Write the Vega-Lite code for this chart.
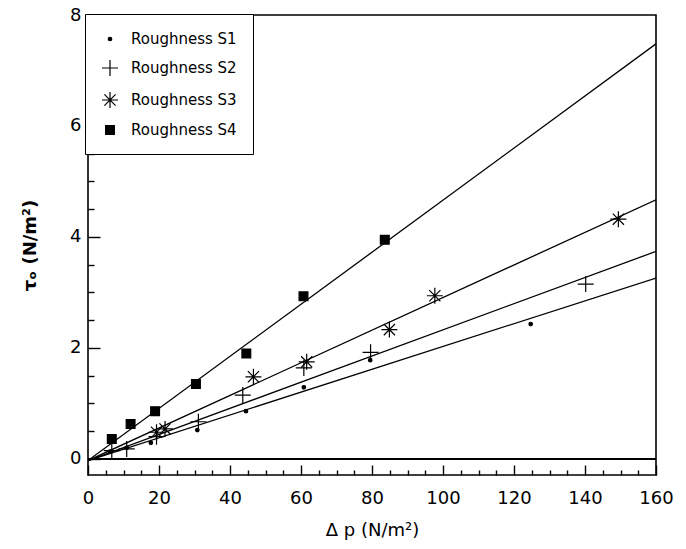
{
  "$schema": "https://vega.github.io/schema/vega-lite/v6.json",
  "width": 568,
  "height": 460,
  "autosize": "none",
  "padding": {"left": 88, "top": 15, "right": 30, "bottom": 74},
  "background": "white",
  "config": {
    "font": "DejaVu Sans",
    "view": {"stroke": "black", "strokeWidth": 1.6},
    "axis": {
      "grid": false,
      "ticks": true,
      "zindex": 1,
      "domain": false,
      "tickColor": "black",
      "tickWidth": 1.4,
      "labelColor": "black",
      "labelFont": "DejaVu Sans",
      "labelFontSize": 18,
      "titleColor": "black",
      "titleFont": "DejaVu Sans",
      "titleFontSize": 18,
      "titleFontWeight": "normal"
    },
    "legend": {
      "orient": "none",
      "legendX": -3,
      "legendY": -1,
      "strokeColor": "black",
      "fillColor": "white",
      "padding": 16,
      "rowPadding": 10,
      "symbolSize": 256,
      "symbolStrokeWidth": 1.2,
      "labelFont": "DejaVu Sans",
      "labelFontSize": 15,
      "labelColor": "black",
      "labelOffset": 12
    }
  },
  "resolve": {"axis": {"x": "independent", "y": "independent"}},
  "datasets": {
    "measured": [
      {"series": "Roughness S1", "dp": 6.2, "tau": 0.13},
      {"series": "Roughness S1", "dp": 10.9, "tau": 0.2},
      {"series": "Roughness S1", "dp": 17.7, "tau": 0.29},
      {"series": "Roughness S1", "dp": 30.8, "tau": 0.52},
      {"series": "Roughness S1", "dp": 44.5, "tau": 0.86},
      {"series": "Roughness S1", "dp": 60.8, "tau": 1.29},
      {"series": "Roughness S1", "dp": 79.5, "tau": 1.78},
      {"series": "Roughness S1", "dp": 124.7, "tau": 2.43},
      {"series": "Roughness S2", "dp": 6.7, "tau": 0.15},
      {"series": "Roughness S2", "dp": 10.9, "tau": 0.18},
      {"series": "Roughness S2", "dp": 19.3, "tau": 0.4},
      {"series": "Roughness S2", "dp": 31.1, "tau": 0.67},
      {"series": "Roughness S2", "dp": 43.6, "tau": 1.15},
      {"series": "Roughness S2", "dp": 60.8, "tau": 1.64},
      {"series": "Roughness S2", "dp": 79.6, "tau": 1.92},
      {"series": "Roughness S2", "dp": 140.2, "tau": 3.15},
      {"series": "Roughness S3", "dp": 19.3, "tau": 0.48},
      {"series": "Roughness S3", "dp": 21.7, "tau": 0.54},
      {"series": "Roughness S3", "dp": 46.6, "tau": 1.48},
      {"series": "Roughness S3", "dp": 61.6, "tau": 1.75},
      {"series": "Roughness S3", "dp": 84.9, "tau": 2.33},
      {"series": "Roughness S3", "dp": 97.7, "tau": 2.94},
      {"series": "Roughness S3", "dp": 149.4, "tau": 4.32},
      {"series": "Roughness S4", "dp": 6.7, "tau": 0.36},
      {"series": "Roughness S4", "dp": 12.0, "tau": 0.63},
      {"series": "Roughness S4", "dp": 18.9, "tau": 0.86},
      {"series": "Roughness S4", "dp": 30.4, "tau": 1.35},
      {"series": "Roughness S4", "dp": 44.6, "tau": 1.9},
      {"series": "Roughness S4", "dp": 60.7, "tau": 2.93},
      {"series": "Roughness S4", "dp": 83.6, "tau": 3.95}
    ],
    "fits": [
      {"series": "Roughness S1", "dp": 0, "tau": -0.03},
      {"series": "Roughness S1", "dp": 160, "tau": 3.26},
      {"series": "Roughness S2", "dp": 0, "tau": -0.03},
      {"series": "Roughness S2", "dp": 160, "tau": 3.74},
      {"series": "Roughness S3", "dp": 0, "tau": -0.03},
      {"series": "Roughness S3", "dp": 160, "tau": 4.67},
      {"series": "Roughness S4", "dp": 0, "tau": -0.03},
      {"series": "Roughness S4", "dp": 160, "tau": 7.48}
    ],
    "baseline": [{"tau": 0}]
  },
  "layer": [
    {
      "data": {"name": "baseline"},
      "mark": {"type": "rule", "color": "black", "strokeWidth": 2},
      "encoding": {
        "y": {"field": "tau", "type": "quantitative", "axis": null}
      }
    },
    {
      "data": {"name": "fits"},
      "mark": {"type": "line", "color": "black", "strokeWidth": 1.3, "clip": true},
      "encoding": {
        "x": {
          "field": "dp",
          "type": "quantitative",
          "axis": {
            "orient": "bottom",
            "title": null,
            "labels": false,
            "values": [5, 10, 15, 25, 30, 35, 45, 50, 55, 65, 70, 75, 85, 90, 95, 105, 110, 115, 125, 130, 135, 145, 150, 155],
            "tickSize": 5,
            "offset": -5
          }
        },
        "y": {
          "field": "tau",
          "type": "quantitative",
          "axis": {
            "orient": "left",
            "title": null,
            "labels": false,
            "values": [0.5, 1, 1.5, 2.5, 3, 3.5, 4.5, 5, 5.5, 6.5, 7, 7.5],
            "tickSize": 6,
            "offset": -6
          }
        },
        "detail": {"field": "series"}
      }
    },
    {
      "data": {"name": "measured"},
      "mark": {"type": "point", "stroke": "black", "strokeWidth": 1.2, "opacity": 1, "size": 256},
      "encoding": {
        "x": {
          "field": "dp",
          "type": "quantitative",
          "scale": {"domain": [0, 160], "nice": false},
          "axis": {
            "orient": "bottom",
            "title": "Δ p (N/m²)",
            "titlePadding": 14,
            "values": [0, 20, 40, 60, 80, 100, 120, 140, 160],
            "format": "d",
            "tickSize": 10,
            "offset": -10,
            "labelPadding": 14,
            "labelFlush": false
          }
        },
        "y": {
          "field": "tau",
          "type": "quantitative",
          "scale": {"domain": [-0.29, 8], "nice": false, "zero": false},
          "axis": {
            "orient": "left",
            "title": "τₒ (N/m²)",
            "titleFontWeight": "bold",
            "titlePadding": 30,
            "values": [0, 2, 4, 6, 8],
            "format": "d",
            "tickSize": 12,
            "offset": -12,
            "labelPadding": 7
          }
        },
        "shape": {
          "field": "series",
          "type": "nominal",
          "scale": {
            "domain": ["Roughness S1", "Roughness S2", "Roughness S3", "Roughness S4"],
            "range": [
              "M0.22,0A0.22,0.22 0 1,1 -0.22,0A0.22,0.22 0 1,1 0.22,0Z",
              "M-1,0L1,0M0,-1L0,1",
              "M-1,0L1,0M0,-1L0,1M-0.7,-0.7L0.7,0.7M-0.7,0.7L0.7,-0.7",
              "M-0.55,-0.55L0.55,-0.55L0.55,0.55L-0.55,0.55Z"
            ]
          },
          "legend": {"title": null}
        },
        "fill": {
          "field": "series",
          "type": "nominal",
          "scale": {
            "domain": ["Roughness S1", "Roughness S2", "Roughness S3", "Roughness S4"],
            "range": ["black", "transparent", "transparent", "black"]
          },
          "legend": {"title": null}
        }
      }
    }
  ]
}
